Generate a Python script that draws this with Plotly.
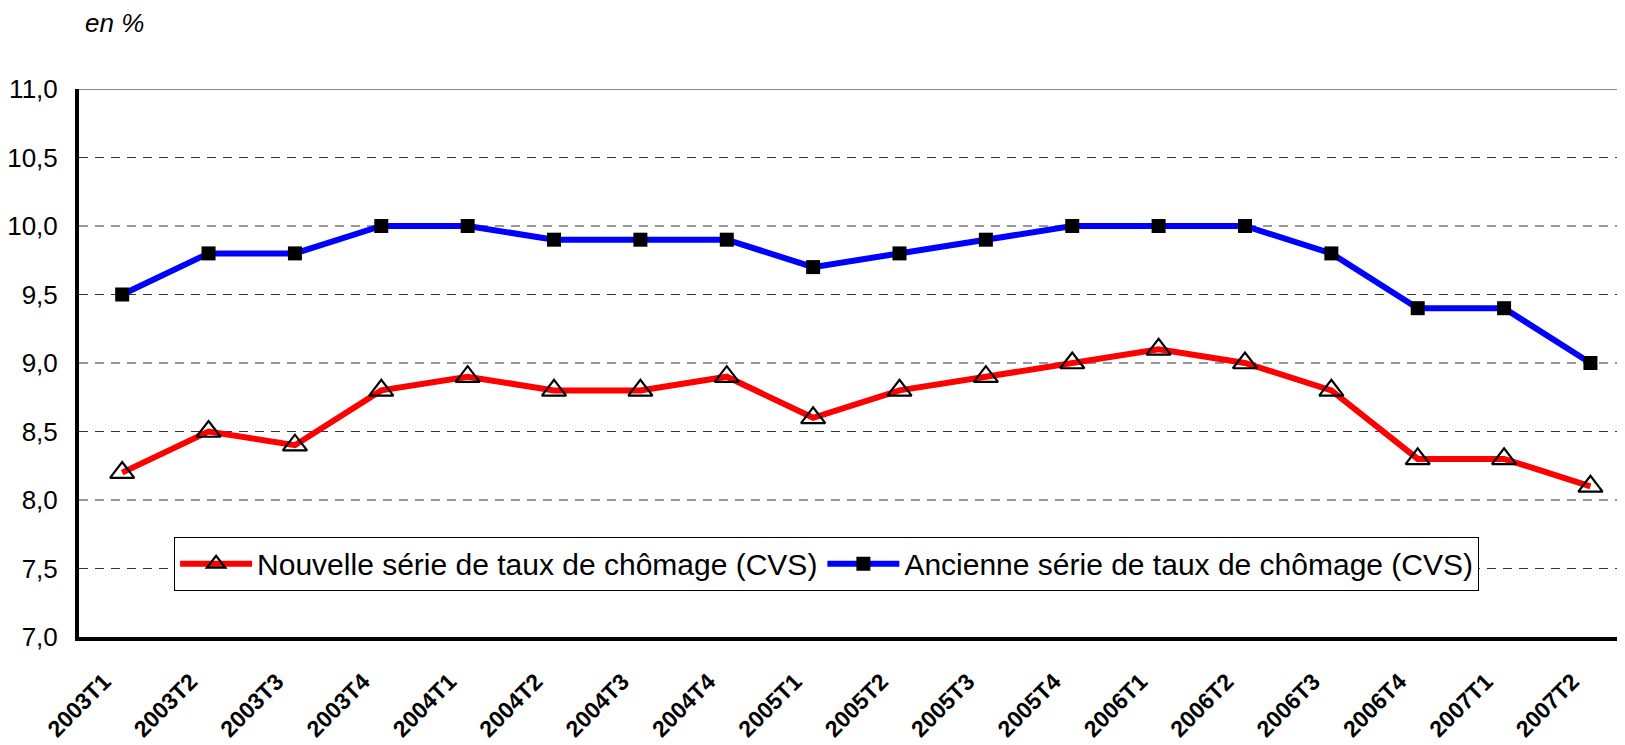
import plotly.graph_objects as go

categories = ["2003T1", "2003T2", "2003T3", "2003T4", "2004T1", "2004T2", "2004T3", "2004T4",
              "2005T1", "2005T2", "2005T3", "2005T4", "2006T1", "2006T2", "2006T3", "2006T4",
              "2007T1", "2007T2"]
nouvelle = [8.2, 8.5, 8.4, 8.8, 8.9, 8.8, 8.8, 8.9, 8.6, 8.8, 8.9, 9.0, 9.1, 9.0, 8.8, 8.3, 8.3, 8.1]
ancienne = [9.5, 9.8, 9.8, 10.0, 10.0, 9.9, 9.9, 9.9, 9.7, 9.8, 9.9, 10.0, 10.0, 10.0, 9.8, 9.4, 9.4, 9.0]
y_ticks = [7.0, 7.5, 8.0, 8.5, 9.0, 9.5, 10.0, 10.5, 11.0]
y_labels = ["7,0", "7,5", "8,0", "8,5", "9,0", "9,5", "10,0", "10,5", "11,0"]

FONT = "Liberation Sans, Arial, sans-serif"

fig = go.Figure()
fig.add_trace(go.Scatter(
    x=categories, y=nouvelle, mode="lines+markers",
    name="Nouvelle série de taux de chômage (CVS)",
    line=dict(color="#FF0000", width=6),
    marker=dict(symbol="triangle-up-open", size=21, color="black", line=dict(color="black", width=2.2)),
))
fig.add_trace(go.Scatter(
    x=categories, y=ancienne, mode="lines+markers",
    name="Ancienne série de taux de chômage (CVS)",
    line=dict(color="#0000FF", width=6),
    marker=dict(symbol="square", size=14, color="black"),
))

# dashed gridlines
for v in y_ticks[1:-1]:
    fig.add_shape(type="line", xref="paper", x0=0, x1=1, yref="y", y0=v, y1=v,
                  line=dict(color="#333333", width=1, dash="9px,7px"), layer="below")
fig.add_shape(type="line", xref="paper", x0=0, x1=1, yref="y", y0=11.0, y1=11.0,
              line=dict(color="#888888", width=2), layer="below")

fig.add_annotation(text="<i>en %</i>", xref="paper", yref="paper", x=0.0026, y=1.12,
                   xanchor="left", yanchor="middle", showarrow=False,
                   font=dict(family=FONT, size=26, color="black"))

# page body has an 8px default margin, so the figure is sized/offset to compensate
fig.update_layout(
    width=1617, height=737,
    margin=dict(l=71, r=0, t=81, b=108),
    plot_bgcolor="white", paper_bgcolor="white",
    font=dict(family=FONT, color="black"),
    showlegend=True,
    legend=dict(
        orientation="h", x=0.0615, y=0.183, xanchor="left", yanchor="top",
        bgcolor="white", bordercolor="black", borderwidth=1,
        font=dict(family=FONT, size=30, color="black"),
        itemwidth=72, tracegroupgap=0,
    ),
    xaxis=dict(
        type="category", range=[-0.5, 17.4], automargin=False,
        showgrid=False, showline=True, linecolor="black", linewidth=4,
        ticks="", tickangle=-45, ticklabelstandoff=18, ticklabelshift=-18,
        tickfont=dict(family=FONT, size=23, color="black", weight="bold"),
    ),
    yaxis=dict(
        range=[7.0, 11.0], tickvals=y_ticks, ticktext=y_labels, automargin=False,
        showgrid=False, zeroline=False,
        showline=True, linecolor="black", linewidth=4,
        ticks="", ticklabelstandoff=12, tickfont=dict(family=FONT, size=26, color="black"),
    ),
)

fig.write_html("out.html")
